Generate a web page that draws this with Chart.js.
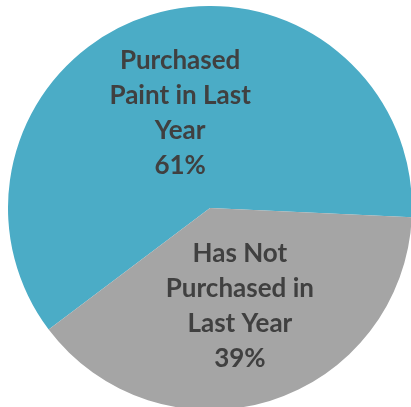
<!DOCTYPE html>
<html>
<head>
<meta charset="utf-8">
<script src="https://cdn.jsdelivr.net/npm/chart.js@4/dist/chart.umd.min.js"></script>
<style>
  html, body { margin: 0; padding: 0; background: #fff; overflow: hidden; }
  #wrap { position: absolute; left: 8px; top: 6px; width: 404px; height: 404px; }
</style>
</head>
<body>
<div id="wrap"><canvas id="pie"></canvas></div>
<script>
// slice names, one line per array entry (as wrapped in the original)
const categories = [
    ['Purchased', 'Paint in Last', 'Year'],
    ['Has Not', 'Purchased in', 'Last Year']
];
const shares = [61, 39];
const colors = ['#4BACC6', '#A5A5A5'];

// draws name + percentage inside each slice
var sliceLabels = {
    id: 'sliceLabels',
    afterDatasetsDraw(chart) {
        var ctx = chart.ctx;
        var meta = chart.getDatasetMeta(0);
        ctx.save();
        ctx.font = 'bold 26px Lato';
        ctx.fillStyle = '#404040';
        ctx.textAlign = 'center';
        ctx.textBaseline = 'middle';
        meta.data.forEach(function(arc, i) {
            var pos = arc.tooltipPosition();
            var lines = categories[i].concat([shares[i] + '%']);
            var lh = 35;
            var y0 = pos.y + 2 - (lines.length - 1) * lh / 2;
            lines.forEach(function(line, j) {
                ctx.fillText(line, pos.x, y0 + j * lh);
            });
        });
        ctx.restore();
    }
};

new Chart(document.getElementById('pie'), {
    type: 'pie',
    data: {
        labels: categories.map(function(c) { return c.join(' '); }),
        datasets: [{
            data: shares,
            backgroundColor: colors,
            borderWidth: 0
        }]
    },
    options: {
        responsive: true,
        maintainAspectRatio: false,
        animation: false,
        rotation: 233,
        layout: { padding: 0 },
        plugins: {
            legend: { display: false },
            tooltip: { enabled: false }
        }
    },
    plugins: [sliceLabels]
});
</script>
</body>
</html>
